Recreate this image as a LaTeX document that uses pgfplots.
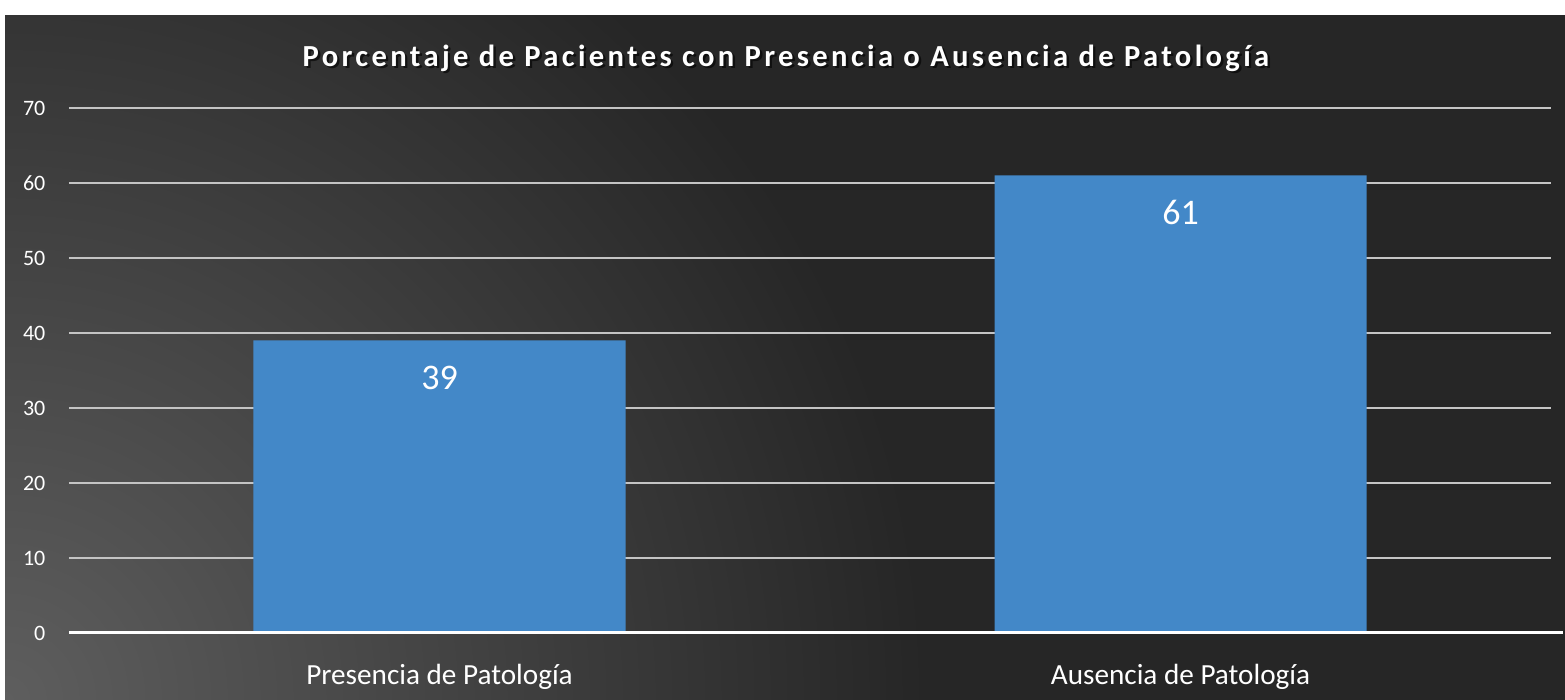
\documentclass[border=0pt]{standalone}
\usepackage{fontspec}
\setmainfont{Carlito}
\newfontfamily\titlefont[LetterSpace=11]{Carlito}
\usepackage{pgfplots}
\pgfplotsset{compat=1.18}
\definecolor{barblue}{HTML}{4388C8}
\definecolor{bglight}{HTML}{5E5E5E}
\definecolor{bgdark}{HTML}{262626}
\definecolor{gridc}{HTML}{C4C4C4}
\pgfdeclareradialshading{bgrad}{\pgfpoint{0bp}{0bp}}{color(0bp)=(bglight); color(12.8bp)=(bgdark); color(50bp)=(bgdark)}
\begin{document}
\begin{tikzpicture}
\fill[white] (0,0) rectangle (782.5pt,350pt);
\begin{scope}
\clip (2.5pt,0) rectangle (782.5pt,342pt);
\shade[shading=bgrad] (2.5pt,0) circle (900pt);
\end{scope}
\node[anchor=base, text=black, opacity=0.6, font=\titlefont\bfseries\fontsize{15.3}{18}\selectfont] at (394.2pt,315.5pt) {Porcentaje de Pacientes con Presencia o Ausencia de Patología};
\node[anchor=base, text=white, font=\titlefont\bfseries\fontsize{15.3}{18}\selectfont] at (393pt,316.75pt) {Porcentaje de Pacientes con Presencia o Ausencia de Patología};
\begin{axis}[
  at={(34.5pt,33.5pt)}, anchor=south west,
  scale only axis, width=741pt, height=262.5pt,
  xmin=-0.5, xmax=1.5, ymin=0, ymax=70,
  ybar, bar width=186pt,
  xtick={0,1}, xticklabels={Presencia de Patología, Ausencia de Patología},
  ytick={0,10,...,70},
  ymajorgrids, grid style={gridc, line width=1pt},
  axis line style={draw=none}, major tick style={draw=none},
  tick label style={text=white},
  xticklabel style={font=\fontsize{14.6}{17}\selectfont, yshift=-8pt},
  yticklabel style={font=\fontsize{11}{13}\selectfont, anchor=east, xshift=-8.3pt},
  /pgf/number format/assume math mode=true,
  nodes near coords,
  nodes near coords style={font=\fontsize{18}{20}\selectfont, text=white, anchor=center, yshift=-18.5pt},
  clip=false,
]
\addplot[fill=barblue, draw=none] coordinates {(0,39) (1,61)};
\draw[white, line width=1.5pt] (axis cs:-0.5,0) -- ([xshift=6pt]axis cs:1.5,0);
\end{axis}
\end{tikzpicture}
\end{document}
